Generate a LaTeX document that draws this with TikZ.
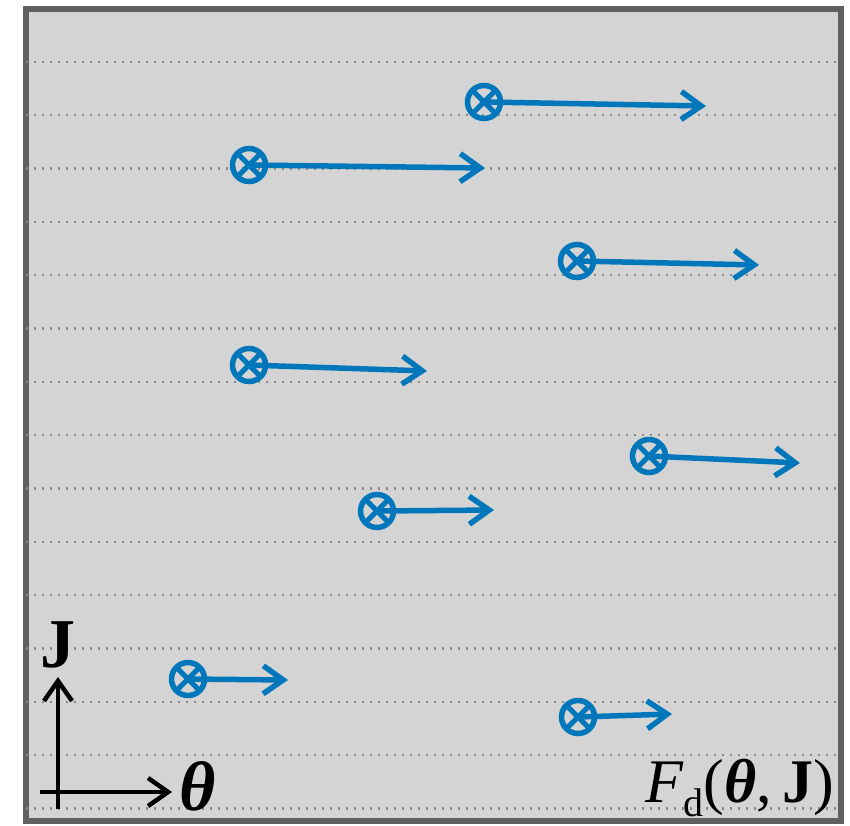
\documentclass[tikz,border=0pt]{standalone}
\usepackage{fontspec}
\setmainfont{Liberation Serif}
\usepackage{xcolor}
\usepackage{tikz}
\usetikzlibrary{positioning,arrows.meta}
\definecolor{cflow}{HTML}{0077BB}
\definecolor{cpanel}{HTML}{D4D4D4}
\definecolor{cframe}{HTML}{606060}
\definecolor{cdots}{HTML}{888888}
\newcommand{\axfont}{\fontsize{62}{66}\selectfont}
\newcommand{\axbig}{\fontsize{70}{74}\selectfont}

\begin{document}
\begin{tikzpicture}[
    x=1pt,y=-1pt,
    panel/.style={draw=cframe,fill=cpanel,line width=6pt},
    grid/.style={draw=cdots,line width=2.4pt,dash pattern=on 2.4pt off 5.6pt},
    spin/.style={circle,draw=cflow,line width=5.5pt,inner sep=0pt,minimum size=33pt,
                 path picture={\draw[cflow,line width=5pt]
                   (path picture bounding box.north west) -- (path picture bounding box.south east)
                   (path picture bounding box.north east) -- (path picture bounding box.south west);}},
    flow/.style={-{Straight Barb[length=20pt,width=28pt]},draw=cflow,line width=5.5pt},
    ax/.style={-{Straight Barb[length=20pt,width=28pt]},draw=black,line width=4.5pt},
    lbl/.style={inner sep=0pt,font=\axfont}]
    \useasboundingbox (0,0) rectangle (850,825);
    \draw[panel] (26,9) rectangle (840.5,821);
    \foreach \k in {0,...,14}
      \draw[grid] (26,{61.7+53.35*\k}) -- (838,{61.7+53.35*\k});
    \foreach \n/\x/\y/\tx/\ty in {1/484/102/706/106, 2/249/165/485/168,
        3/577/261/759/265, 4/249/365/427/371, 5/649/456/800/463,
        6/377/511/494/510, 7/188/679/288/680, 8/578/717/672/714} {
      \coordinate (tip\n) at (\tx,\ty);
      \draw[flow] (\x,\y) -- (tip\n);
      \node[spin] (src\n) at (\x,\y) {};
    }
    \coordinate (jlow)  at (58,809);
    \coordinate (jtop)  at (58,677);
    \coordinate (thlow) at (40,792);
    \coordinate (thtop) at (172,792);
    \draw[ax] (jlow)  -- (jtop);
    \draw[ax] (thlow) -- (thtop);
    \node[lbl,font=\axbig,anchor=base] (jlab) at (58,667) {\textbf{J}};
    \node[lbl,font=\axbig,anchor=base west] (thlab) at (179,810) {\textbf{\textit{θ}}};
    \node[lbl,anchor=base east] (force) at (834,802)
      {\textit{F}\raisebox{-14pt}{\fontsize{40}{40}\selectfont d}(\textbf{\textit{θ}},\,\textbf{J})};
  \end{tikzpicture}
\end{document}
